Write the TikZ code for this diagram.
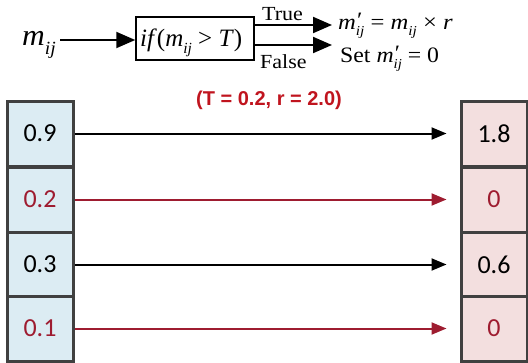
\documentclass[tikz,border=0pt]{standalone}
\usepackage[no-math]{fontspec}
\setmainfont{Liberation Serif}
\newfontfamily\calib{Carlito}
\newfontfamily\arialb{Liberation Sans}
\usetikzlibrary{arrows.meta}
\newcommand\sbs[1]{\raisebox{-0.3em}{\scalebox{0.62}{\textit{#1}}}}
\newcommand\mij{\textit{m}\sbs{ij}}
\newcommand\mpij{\textit{m}\rlap{\raisebox{0.05em}{\kern0.05em′}}\sbs{ij}}
\definecolor{cellblue}{RGB}{220,236,243}
\definecolor{cellpink}{RGB}{243,223,223}
\definecolor{bord}{RGB}{64,64,64}
\definecolor{dred}{RGB}{158,28,48}
\definecolor{bred}{RGB}{192,20,30}
\begin{document}
\begin{tikzpicture}[x=1pt,y=-1pt,
  cell/.style={draw=bord,line width=3pt,minimum width=66pt,minimum height=65pt,inner sep=0pt,font=\calib\fontsize{26}{28}\selectfont},
  lcell/.style={cell,fill=cellblue},
  rcell/.style={cell,fill=cellpink},
  blk/.style={line width=2pt,-{Triangle[length=15pt,width=12pt]}},
  redar/.style={blk,draw=dred,color=dred},
  topar/.style={line width=2pt,-{Triangle[length=19pt,width=16pt]}},
  tnode/.style={inner sep=0pt,anchor=base west,font=\fontsize{20}{22}\selectfont}
]
\useasboundingbox (0,0) rectangle (528,362);
% cells
\node[lcell] (l1) at (40,133.5) {0.9};
\node[lcell,text=dred] (l2) at (40,199.5) {0.2};
\node[lcell] (l3) at (40,264.5) {0.3};
\node[lcell,text=dred] (l4) at (40,328.5) {0.1};
\node[rcell] (r1) at (494,133.5) {1.8};
\node[rcell,text=dred] (r2) at (494,199.5) {0};
\node[rcell] (r3) at (494,264.5) {0.6};
\node[rcell,text=dred] (r4) at (494,328.5) {0};
\draw[blk,shorten >=13pt] (l1) -- (r1);
\draw[redar,shorten >=13pt] (l2) -- (r2);
\draw[blk,shorten >=13pt] (l3) -- (r3);
\draw[redar,shorten >=13pt] (l4) -- (r4);
% params
\node[text=bred,font=\arialb\bfseries\fontsize{20}{22}\selectfont,inner sep=0pt,anchor=base] (par) at (269,105) {(T = 0.2, r = 2.0)};
% top flow
\node[inner sep=0pt,anchor=base west,font=\fontsize{30}{32}\selectfont] (m) at (22,45) {\scalebox{1.05}[1]{\mij}};
\node[draw,line width=1.5pt,minimum width=118pt,minimum height=43pt,inner sep=0pt] (box) at (195,38.5) {};
\node[inner sep=0pt,anchor=base west,font=\fontsize{25}{27}\selectfont] (cond) at (140,46) {\textit{if}(\mij\ > \textit{T})};
\coordinate (ms) at (60,40);
\draw[topar] (ms) -- (box.west |- ms);
\coordinate (t1) at (332,25);
\coordinate (f1) at (332,45);
\draw[topar] (box.east |- t1) -- (t1);
\draw[topar] (box.east |- f1) -- (f1);
\node[tnode] (tr) at (262,20) {\scalebox{1.1}[1]{True}};
\node[tnode] (fa) at (260,68) {\scalebox{1.1}[1]{False}};
\node[tnode,font=\fontsize{22}{24}\selectfont] (eq1) at (338,29) {\scalebox{1.12}[1]{\mpij\ = \mij\ × \textit{r}}};
\node[tnode,font=\fontsize{22}{24}\selectfont] (eq2) at (340,62) {\scalebox{1.08}[1]{Set \mpij\ = 0}};
\end{tikzpicture}
\end{document}
